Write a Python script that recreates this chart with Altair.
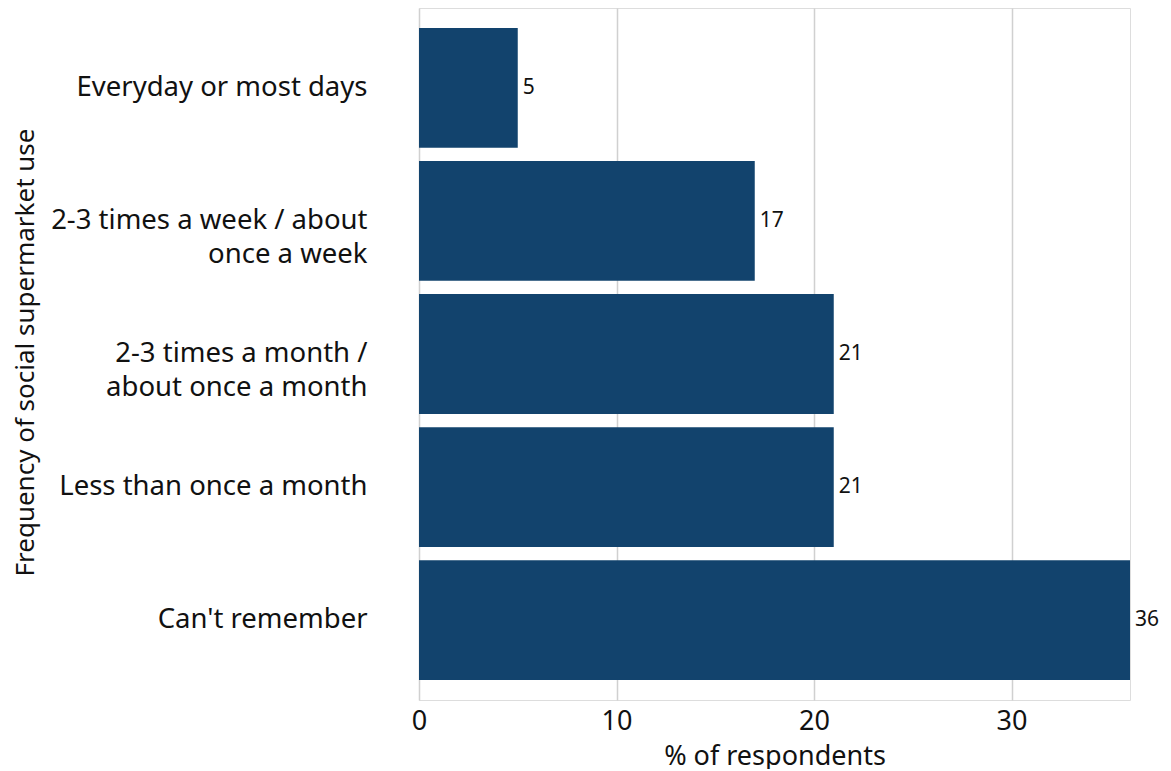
import altair as alt
import pandas as pd

categories = [
    "Everyday or most days",
    "2-3 times a week / about|once a week",
    "2-3 times a month /|about once a month",
    "Less than once a month",
    "Can't remember",
]
values = [5, 17, 21, 21, 36]

df = pd.DataFrame({"cat": categories, "val": values})

FONT = "Noto Sans"
COLOR = "#12436D"

base = alt.Chart(df)

bars = base.mark_bar(color=COLOR).encode(
    x=alt.X(
        "val:Q",
        scale=alt.Scale(domain=[0, 36], nice=False),
        axis=alt.Axis(
            title="% of respondents",
            values=[0, 10, 20, 30],
            grid=True,
            gridColor="#d0d0d0",
            gridWidth=1.5,
            domain=False,
            ticks=False,
            labelFlush=False,
            labelFontSize=27,
            labelColor="#111111",
            labelPadding=8,
            titleFontSize=27,
            titleFontWeight="normal",
            titleColor="#111111",
            titlePadding=9,
            labelFont=FONT,
            titleFont=FONT,
        ),
    ),
    y=alt.Y(
        "cat:N",
        sort=categories,
        scale=alt.Scale(paddingInner=0.1, paddingOuter=0.15),
        axis=alt.Axis(
            title="Frequency of social supermarket use",
            labelExpr="split(datum.label, '|')",
            labelFontSize=27.5,
            labelLineHeight=34,
            labelColor="#111111",
            labelPadding=52,
            labelLimit=400,
            grid=False,
            domain=False,
            ticks=False,
            titleFontSize=26,
            titleFontWeight="normal",
            titleColor="#111111",
            titleX=-394,
            titleY=344,
            titleAngle=-90,
            titleBaseline="middle",
            labelFont=FONT,
            titleFont=FONT,
        ),
    ),
)

text = base.mark_text(
    align="left", baseline="middle", dx=5, fontSize=21, font=FONT, color="#111111"
).encode(
    x="val:Q",
    y=alt.Y("cat:N", sort=categories),
    text="val:Q",
)

chart = (
    (bars + text)
    .properties(
        width=711,
        height=692,
        autosize=alt.AutoSizeParams(type="none"),
        padding={"left": 411, "top": 0, "right": 30, "bottom": 69},
    )
    .configure_view(stroke="transparent", strokeWidth=0, strokeOpacity=0)
    .configure(font=FONT)
)

chart.save("out.html", embed_options={"renderer": "svg", "actions": False})
